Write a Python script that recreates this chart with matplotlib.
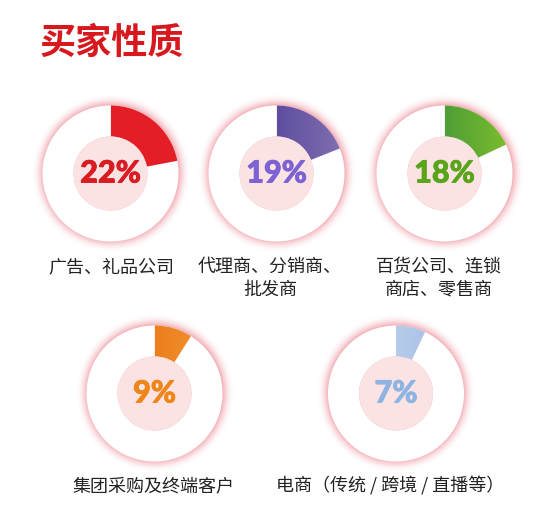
import numpy as np
import matplotlib
matplotlib.use("Agg")
import matplotlib.pyplot as plt
from matplotlib.patches import Circle
from matplotlib.colors import LinearSegmentedColormap
import matplotlib.patheffects as pe

plt.rcParams['font.family'] = ['Noto Sans CJK SC', 'DejaVu Sans']

title = "买家性质"
categories = ["广告、礼品公司", "代理商、分销商、\n批发商", "百货公司、连锁\n商店、零售商",
              "集团采购及终端客户", "电商（传统 / 跨境 / 直播等）"]
values = [22, 19, 18, 9, 7]
text_colors = ["#d81c22", "#7d62d3", "#5aa41a", "#f0861a", "#8db4e2"]
wedge_colors = [("#e31e26", "#e31e26"), ("#5f4e9f", "#8170b0"), ("#4e9e36", "#80c02c"),
                ("#ec7f1c", "#f39a3a"), ("#b7cbea", "#9dbbe6")]

W, H = 551, 507
centers = [(110.5, 173.5), (276.5, 173.5), (444.5, 173.5), (154.5, 393.5), (396, 393.5)]
label_pos = [(111, 267), (270, 267), (438.5, 267), (153.5, 486), (390, 486)]
R_OUT, R_IN = 68, 37
GLOW = 12

fig = plt.figure(figsize=(W / 100, H / 100), dpi=100)
ax = fig.add_axes([0, 0, 1, 1])

fig.text(40 / W, 1 - 43.5 / H, title, fontsize=26, fontweight='bold', color="#d7191f",
         ha='left', va='center')

# radial glow image
n = 200
ext = R_OUT + GLOW
g = np.linspace(-ext, ext, n)
XX, YY = np.meshgrid(g, g)
RR = np.hypot(XX, YY)
t = np.clip((RR - R_OUT) / GLOW, 0, 1)
alpha = np.where(RR >= R_OUT - 2, 0.55 * (1 - t) ** 2, 0.55)
glow = np.zeros((n, n, 4))
glow[..., 0] = 232 / 255
glow[..., 1] = 110 / 255
glow[..., 2] = 125 / 255
glow[..., 3] = alpha

for i, v in enumerate(values):
    cx, cy = centers[i]
    cy = H - cy
    ax.imshow(glow, extent=(cx - ext, cx + ext, cy - ext, cy + ext), zorder=1,
              interpolation='bilinear')
    wedges, _ = ax.pie([v, 100 - v], radius=R_OUT, center=(cx, cy), startangle=90,
                       counterclock=False, colors=["white", "white"],
                       wedgeprops=dict(width=R_OUT - R_IN, edgecolor='none'), frame=True)
    for w in wedges:
        w.set_zorder(2)
    c0, c1 = wedge_colors[i]
    cmap = LinearSegmentedColormap.from_list("g%d" % i, [c0, c1])
    grad = np.linspace(0, 1, 64).reshape(1, -1)
    im = ax.imshow(grad, cmap=cmap, extent=(cx, cx + R_OUT, cy, cy + R_OUT), aspect='auto',
                   zorder=3, interpolation='bilinear')
    im.set_clip_path(wedges[0])
    ax.add_patch(Circle((cx, cy), R_IN, facecolor="#fbe3e3", edgecolor='none', zorder=4))
    ax.text(cx, cy, f"{v}%", fontsize=22, fontweight='black', family=['Lato', 'DejaVu Sans'],
            color=text_colors[i], ha='center', va='center', zorder=5,
            path_effects=[pe.withStroke(linewidth=0.6, foreground=text_colors[i])])

ax.set_xlim(0, W)
ax.set_ylim(0, H)
ax.set_aspect('equal')
ax.axis('off')

for i, lab in enumerate(categories):
    lx, ly = label_pos[i]
    for j, line in enumerate(lab.split("\n")):
        ax.text(lx, H - (ly + 23 * j), line, fontsize=13, color="#222222",
                ha='center', va='center', zorder=6)

fig.savefig("out.png", dpi=100)
